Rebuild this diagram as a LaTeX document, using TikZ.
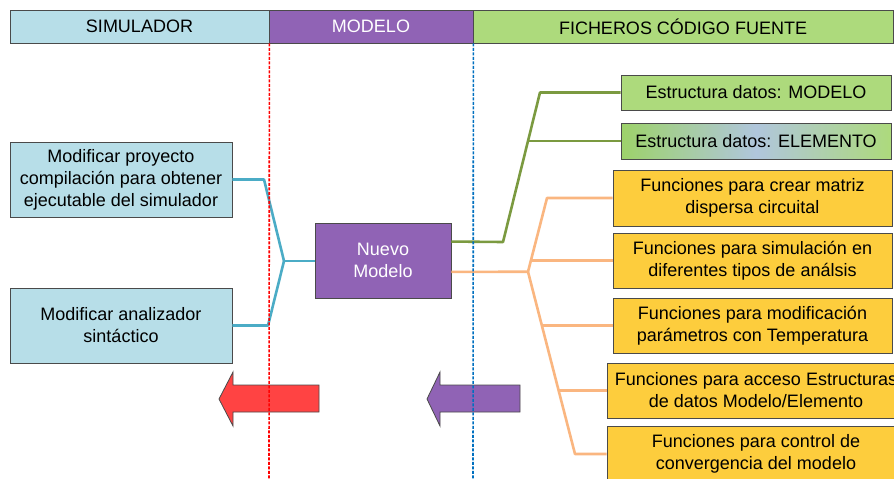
\documentclass[tikz,border=0pt]{standalone}
\usepackage{fontspec}
\setmainfont{Liberation Sans}
\usetikzlibrary{calc}

\definecolor{simblue}{HTML}{B7DEE8}
\definecolor{modpurple}{HTML}{9063B5}
\definecolor{srcgreen}{HTML}{ADDA7C}
\definecolor{srcgreenb}{HTML}{9DD26A}
\definecolor{fnorange}{HTML}{FDCD3D}
\definecolor{linkblue}{HTML}{4BACC6}
\definecolor{linkgreen}{HTML}{7B9A40}
\definecolor{linkorange}{HTML}{FAB680}
\definecolor{edge}{HTML}{4A4A4A}
\definecolor{arrowred}{HTML}{FF4343}
\definecolor{lineblue}{HTML}{0070C0}
\definecolor{steelmid}{HTML}{B0C6DC}

\tikzset{
  txt/.style={font=\fontsize{18}{22}\selectfont, align=center, inner sep=0pt},
  box/.style={txt, draw=edge, line width=0.8pt, rectangle},
  headbox/.style={box, minimum height=33pt},
  simbox/.style={box, fill=simblue, minimum width=222pt, minimum height=75pt},
  greenbox/.style={box, fill=srcgreen, minimum width=270pt},
  fnbox/.style={box, fill=fnorange, minimum height=55pt},
  link/.style={line width=2.6pt, line join=round},
  divider/.style={line width=1.6pt, dash pattern=on 3pt off 1.5pt},
  bigarrow/.style={draw=edge, line width=0.8pt}
}

\begin{document}
\begin{tikzpicture}[x=1pt, y=-1pt]
\useasboundingbox (0,0) rectangle (894,479);
\fill[white] (0,0) rectangle (894,479);

% column headers
\node[headbox, fill=simblue, minimum width=259pt] (hs) at (139.5,26.5) {SIMULADOR};
\node[headbox, fill=modpurple, text=white, minimum width=204pt] (hm) at (371,26.5) {MODELO};
\node[headbox, fill=srcgreen, minimum width=420pt] (hf) at (683,26.5) {FICHEROS CÓDIGO FUENTE};

% simulator tasks
\node[simbox] (l1) at (121,179.5) {Modificar proyecto\\compilación para obtener\\ejecutable del simulador};
\node[simbox] (l2) at (121,325.5) {Modificar analizador\\sintáctico};

% new model
\node[box, fill=modpurple, text=white, minimum width=136pt, minimum height=75pt] (nm) at (383,260.5) {Nuevo\\Modelo};

% source file boxes
\node[greenbox, minimum height=35pt] (g1) at (756,92.5) {Estructura datos: MODELO};
\node[greenbox, minimum height=36pt, left color=srcgreenb, right color=srcgreen, middle color=steelmid] (g2) at (756,141) {Estructura datos: ELEMENTO};
\node[fnbox, minimum width=279pt, minimum height=56pt] (o1) at (752.5,198) {Funciones para crear matriz\\dispersa circuital};
\node[fnbox, minimum width=279pt] (o2) at (752.5,260.5) {Funciones para simulación en\\diferentes tipos de análsis};
\node[fnbox, minimum width=279pt] (o3) at (752.5,325.5) {Funciones para modificación\\parámetros con Temperatura};
\node[fnbox, minimum width=298pt] (o4) at (756,390.5) {Funciones para acceso Estructuras\\de datos Modelo/Elemento};
\node[fnbox, minimum width=298pt, minimum height=56pt] (o5) at (756,454) {Funciones para control de\\convergencia del modelo};

% simulator connectors
\coordinate (lj) at (284,261);
\draw[link, linkblue] (l1.east) -- (264,179.5) -- (lj);
\draw[link, linkblue] (l2.east) -- (268,325.5) -- (lj);
\draw[link, linkblue] (lj) -- (nm.west |- lj);

% data structure connectors
\coordinate (gs) at ($(nm.north east)!0.25!(nm.south east)$);
\coordinate (gj) at (503,242);
\coordinate (gt) at (540,92.5);
\coordinate (gm) at (528,141);
\draw[link, linkgreen] (gs) -- (gj) -- (gt) -- (g1.west);
\draw[link, linkgreen] (gm) -- (g2.west);

% function connectors
\coordinate (os) at ($(nm.north east)!0.65!(nm.south east)$);
\coordinate (oj) at (528,271.75);
\coordinate (ot) at (547,198);
\coordinate (ob) at (575,454);
\coordinate (o2j) at (531,260.5);
\coordinate (o3j) at (541.8,325.5);
\coordinate (o4j) at (558.6,390.5);
\draw[link, linkorange] (os) -- (oj) -- (ot) -- (o1.west);
\draw[link, linkorange] (oj) -- (ob) -- (o5.west);
\draw[link, linkorange] (o2j) -- (o2.west);
\draw[link, linkorange] (o3j) -- (o3.west);
\draw[link, linkorange] (o4j) -- (o4.west);

% direction arrows
\filldraw[bigarrow, fill=arrowred] (219,399) -- (233,372) -- (233,385) -- (319,385)
  -- (319,412) -- (233,412) -- (233,426) -- cycle;
\filldraw[bigarrow, fill=modpurple] (427,399) -- (440,372) -- (440,385) -- (520,385)
  -- (520,412) -- (440,412) -- (440,426) -- cycle;

% column dividers
\coordinate (rb) at (269,479);
\coordinate (bb) at (473,479);
\draw[divider, red] (hs.south east) -- (rb);
\draw[divider, lineblue] (hm.south east) -- (bb);
\end{tikzpicture}
\end{document}
